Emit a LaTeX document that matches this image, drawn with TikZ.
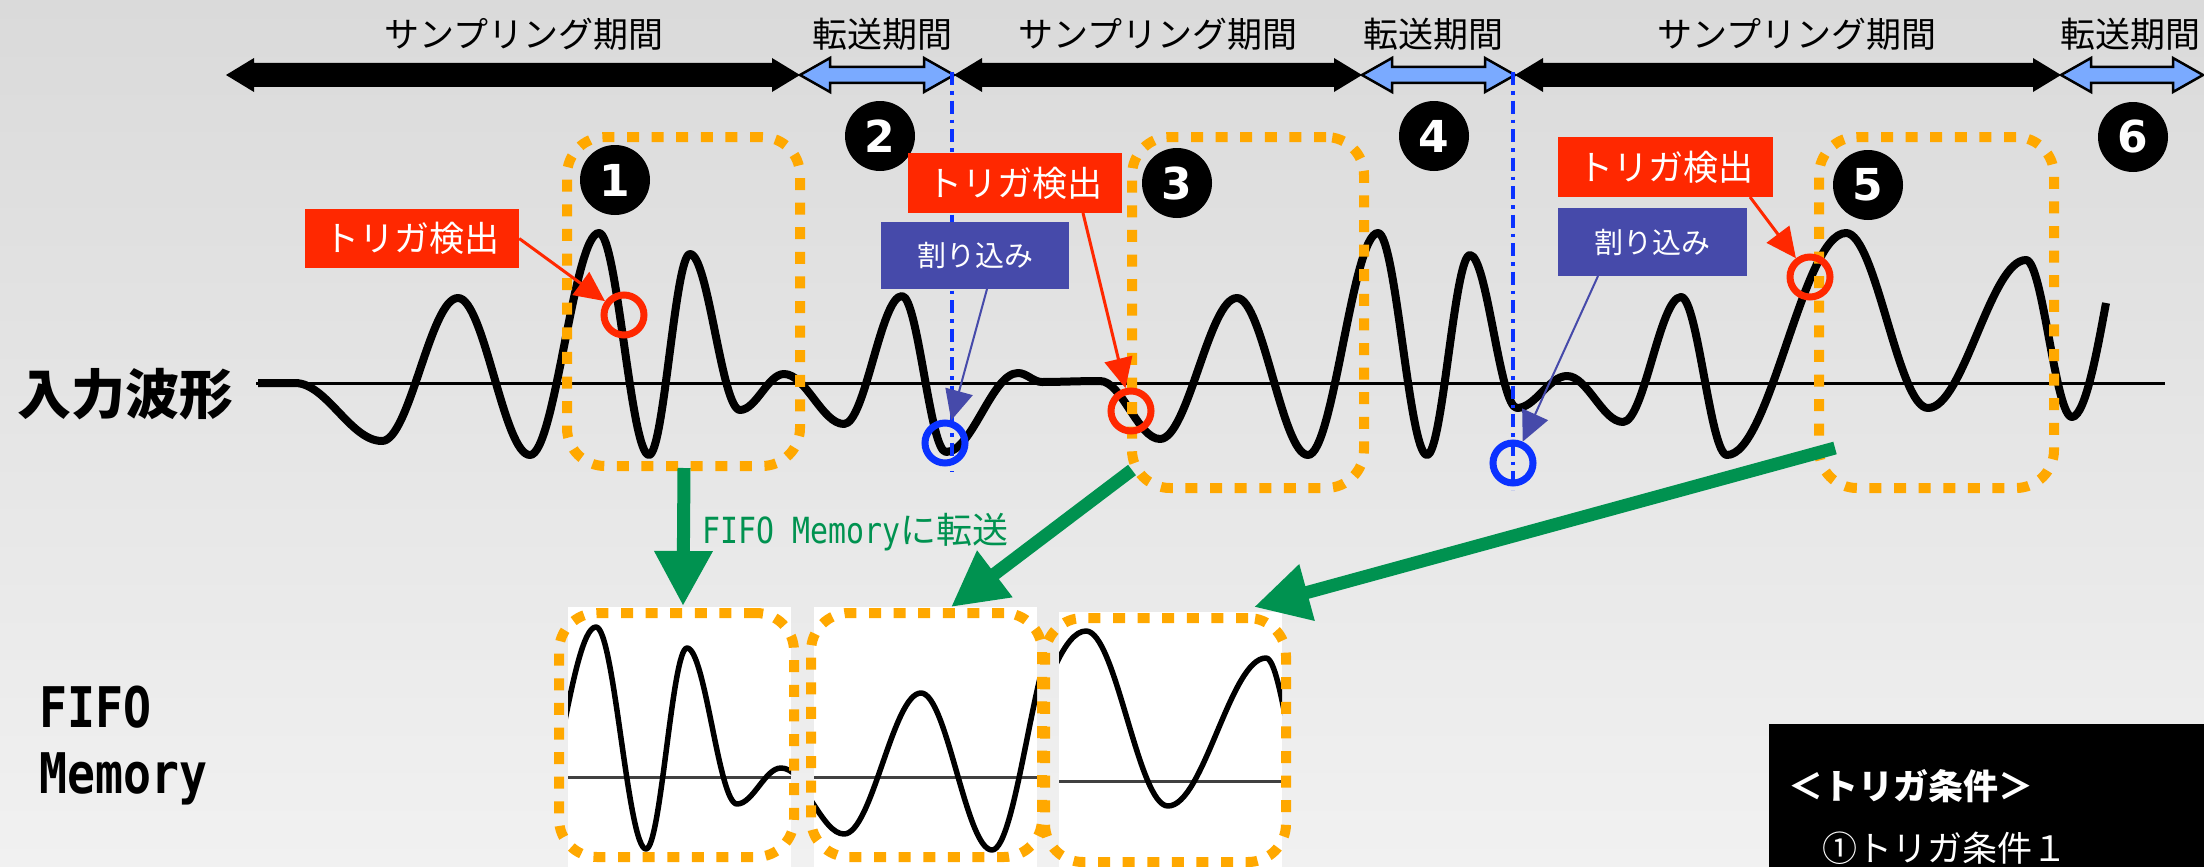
\documentclass[tikz,border=0pt]{standalone}
\usepackage{fontspec}
\usetikzlibrary{arrows.meta,calc}
\newfontfamily\jp{Noto Sans CJK JP}
\newfontfamily\nmono[FakeStretch=0.83]{DejaVu Sans Mono}
\newfontfamily\dsans{DejaVu Sans}
\definecolor{bgtop}{RGB}{218,218,218}
\definecolor{bgbot}{RGB}{241,241,241}
\definecolor{lblue}{RGB}{122,170,255}
\definecolor{oran}{RGB}{255,168,0}
\definecolor{grn}{RGB}{0,146,80}
\definecolor{rd}{RGB}{255,40,0}
\definecolor{ind}{RGB}{70,74,170}
\definecolor{bl}{RGB}{10,50,255}
\newcommand\dblarr[7]{\path[#7] (#1,#3) -- (#1+#6,#3-#5) -- (#1+#6,#3-#4) -- (#2-#6,#3-#4) -- (#2-#6,#3-#5) -- (#2,#3) -- (#2-#6,#3+#5) -- (#2-#6,#3+#4) -- (#1+#6,#3+#4) -- (#1+#6,#3+#5) -- cycle;}
\newcommand\wavepath{(258,383) -- (295,383)
 .. controls (326.6,383) and (350.4,441) .. (382,441)
 .. controls (409.6,441) and (430.4,298) .. (458,298)
 .. controls (484.2,298) and (503.8,455) .. (530,455)
 .. controls (555.1,455) and (573.9,233) .. (599,233)
 .. controls (617.2,233) and (630.8,455) .. (649,455)
 .. controls (663.9,455) and (675.1,254) .. (690,254)
 .. controls (708.2,254) and (721.8,410) .. (740,410)
 .. controls (756,410) and (768,374) .. (784,374)
 .. controls (805.8,374) and (822.2,424) .. (844,424)
 .. controls (865.1,424) and (880.9,296) .. (902,296)
 .. controls (918,296) and (930,452) .. (946,452)
 .. controls (972.2,452) and (991.8,373) .. (1018,373)
 .. controls (1026.7,373) and (1033.3,382) .. (1042,382)
 .. controls (1060,382) and (1080,381) .. (1100,381)
 .. controls (1121.8,381) and (1138.2,439) .. (1160,439)
 .. controls (1188,439) and (1209,298) .. (1237,298)
 .. controls (1262.8,298) and (1282.2,455) .. (1308,455)
 .. controls (1333.4,455) and (1352.6,233) .. (1378,233)
 .. controls (1395.8,233) and (1409.2,455) .. (1427,455)
 .. controls (1442.6,455) and (1454.4,255) .. (1470,255)
 .. controls (1487.1,255) and (1499.9,408) .. (1517,408)
 .. controls (1535.2,408) and (1548.8,376) .. (1567,376)
 .. controls (1587.4,376) and (1602.6,422) .. (1623,422)
 .. controls (1644.1,422) and (1659.9,297) .. (1681,297)
 .. controls (1697.7,297) and (1710.3,455) .. (1727,455)
 .. controls (1770.2,455) and (1802.8,233) .. (1846,233)
 .. controls (1875.8,233) and (1898.2,408) .. (1928,408)
 .. controls (1963.6,408) and (1990.4,260) .. (2026,260)
 .. controls (2042.7,260) and (2055.3,417) .. (2072,417)
 .. controls (2086,417) and (2099,340) .. (2106,303)}
\begin{document}
\begin{tikzpicture}[x=1pt,y=-1pt,
  toplbl/.style={font=\jp\fontsize{35}{40}\selectfont, inner sep=0},
  numc/.style={circle, fill=black, minimum size=70pt, inner sep=0, text=white, font=\dsans\bfseries\fontsize{44}{44}\selectfont},
  obox/.style={draw=oran, line width=10pt, dash pattern=on 12pt off 12.6pt, rounded corners=38pt, inner sep=0},
  redlbl/.style={fill=rd, text=white, inner sep=0, font=\jp\fontsize{35}{40}\selectfont},
  bluelbl/.style={fill=ind, text=white, inner sep=0, font=\jp\fontsize{29}{34}\selectfont},
  redc/.style={circle, draw=rd, line width=7pt, minimum size=40pt, inner sep=0},
  bluec/.style={circle, draw=bl, line width=7pt, minimum size=40pt, inner sep=0},
  redarr/.style={draw=rd, line width=3pt, -{Triangle[length=30pt,width=28pt]}},
  bluearr/.style={draw=ind, line width=2pt, -{Triangle[length=30pt,width=28pt]}},
  grarr/.style={draw=grn, line width=13pt, -{Triangle[length=55pt,width=55pt]}},
  vline/.style={draw=bl, line width=3.2pt, dash pattern=on 13pt off 6pt on 3.5pt off 6pt},
  wave/.style={line width=8pt, line join=round},
  fwave/.style={line width=5.5pt, line join=round},
  fbase/.style={draw=black!75, line width=3pt},
  blkarr/.style={fill=black},
  bluarr/.style={fill=lblue, draw=black, line width=2.5pt, line join=miter}
]
\useasboundingbox (0,0) rectangle (2204,867);
\shade[top color=bgtop, bottom color=bgbot] (0,0) rectangle (2204,867);

% top period arrows
\dblarr{226}{800}{75}{12}{17}{28}{blkarr}
\dblarr{800}{954}{75}{8}{17}{30}{bluarr}
\dblarr{954}{1362}{75}{12}{17}{28}{blkarr}
\dblarr{1362}{1515}{75}{8}{17}{30}{bluarr}
\dblarr{1515}{2061}{75}{12}{17}{28}{blkarr}
\dblarr{2061}{2203}{75}{8}{17}{30}{bluarr}

\node[toplbl] (s1) at (524,34) {サンプリング期間};
\node[toplbl] (t1) at (882,34) {転送期間};
\node[toplbl] (s2) at (1158,34) {サンプリング期間};
\node[toplbl] (t2) at (1433,34) {転送期間};
\node[toplbl] (s3) at (1797,34) {サンプリング期間};
\node[toplbl] (t3) at (2130,34) {転送期間};

% left labels
\node[inner sep=0, font=\jp\bfseries\fontsize{54}{60}\selectfont] (inlbl) at (125,394) {入力波形};
\node[anchor=base west, inner sep=0, font=\nmono\bfseries\fontsize{56}{60}\selectfont] (ff) at (39,727) {FIFO};
\node[anchor=base west, inner sep=0, font=\nmono\bfseries\fontsize{56}{60}\selectfont] (fm) at (39,793) {Memory};

% input waveform
\draw[line width=3pt] (256,383) -- (2165,383);
\draw[wave] \wavepath;

% interrupt lines
\coordinate (v1t) at (952,72);
\coordinate (v1b) at (952,472);
\coordinate (v2t) at (1513,72);
\coordinate (v2b) at (1513,490);
\draw[vline] (v1t) -- (v1b);
\draw[vline] (v2t) -- (v2b);

% sampled windows
\node[obox, minimum width=233pt, minimum height=329pt] (ob1) at (683.5,301.5) {};
\node[obox, minimum width=232pt, minimum height=351pt] (ob3) at (1248,312.5) {};
\node[obox, minimum width=235pt, minimum height=351pt] (ob5) at (1936.5,312.5) {};

% numbers
\node[numc] (n1) at (615,180) {1};
\node[numc] (n2) at (880,136) {2};
\node[numc] (n3) at (1177,183) {3};
\node[numc] (n4) at (1434,136) {4};
\node[numc] (n5) at (1868,185) {5};
\node[numc] (n6) at (2133,137) {6};

% markers
\node[redc] (rc1) at (624,315) {};
\node[redc] (rc3) at (1131,411) {};
\node[redc] (rc5) at (1810,277) {};
\node[bluec] (bc2) at (945,443) {};
\node[bluec] (bc4) at (1513,463) {};

% labels
\node[redlbl, minimum width=214pt, minimum height=59pt] (L1) at (412,238.5) {トリガ検出};
\node[redlbl, minimum width=214pt, minimum height=60pt] (L2) at (1015,183) {トリガ検出};
\node[redlbl, minimum width=215pt, minimum height=60pt] (L3) at (1665.5,167) {トリガ検出};
\node[bluelbl, minimum width=188pt, minimum height=67pt] (B1) at (975,255.5) {割り込み};
\node[bluelbl, minimum width=189pt, minimum height=68pt] (B2) at (1652.5,242) {割り込み};

\coordinate (r1s) at (L1.east);
\coordinate (r2s) at (1083,213);
\coordinate (r3s) at (1750,197);
\coordinate (b1s) at (987,289);
\coordinate (b2s) at (1598,276);
\draw[redarr] (r1s) -- (rc1);
\draw[redarr] (r2s) -- (rc3);
\draw[redarr] (r3s) -- (rc5);
\draw[bluearr] (b1s) -- (bc2);
\draw[bluearr] (b2s) -- (bc4);

% FIFO memory boxes
\fill[white] (568,607) rectangle (791,867);
\fill[white] (814,607) rectangle (1037,867);
\fill[white] (1059,612) rectangle (1282,867);
\draw[fbase] (568,777) -- (791,777);
\draw[fbase] (814,777) -- (1037,777);
\draw[fbase] (1059,781) -- (1282,781);
\begin{scope}
  \clip (568,607) rectangle (791,867);
  \begin{scope}[shift={(-3,394)}]\draw[fwave] \wavepath;\end{scope}
\end{scope}
\begin{scope}
  \clip (814,607) rectangle (1037,867);
  \begin{scope}[shift={(-316,395)}]\draw[fwave] \wavepath;\end{scope}
\end{scope}
\begin{scope}
  \clip (1059,612) rectangle (1282,867);
  \begin{scope}[shift={(-760,398)}]\draw[fwave] \wavepath;\end{scope}
\end{scope}
\node[obox, minimum width=235pt, minimum height=244pt] (fa) at (676.5,735) {};
\node[obox, minimum width=231pt, minimum height=244pt] (fb) at (926.5,735) {};
\node[obox, minimum width=241pt, minimum height=244pt] (fc) at (1165.5,740) {};

% transfer arrows
\coordinate (g1s) at (684,468);
\coordinate (g1e) at (683,606);
\coordinate (g2s) at (1132,470);
\coordinate (g2e) at (951,607);
\coordinate (g3s) at (1835,448);
\coordinate (g3e) at (1254,607);
\draw[grarr] (g1s) -- (g1e);
\draw[grarr] (g2s) -- (g2e);
\draw[grarr] (g3s) -- (g3e);
\node[anchor=west, inner sep=0, text=grn, font=\fontsize{36}{40}\selectfont] (gt) at (702,532) {{\nmono FIFO Memory}{\jp に転送}};

% trigger condition box
\fill[black] (1769,724) rectangle (2204,867);
\node[anchor=west, inner sep=0, text=white, font=\jp\bfseries\fontsize{35}{40}\selectfont] (tc) at (1788,786) {＜トリガ条件＞};
\node[anchor=west, inner sep=0, text=white, font=\jp\fontsize{35}{40}\selectfont] (tc1) at (1822,848) {①トリガ条件１};
\end{tikzpicture}
\end{document}
